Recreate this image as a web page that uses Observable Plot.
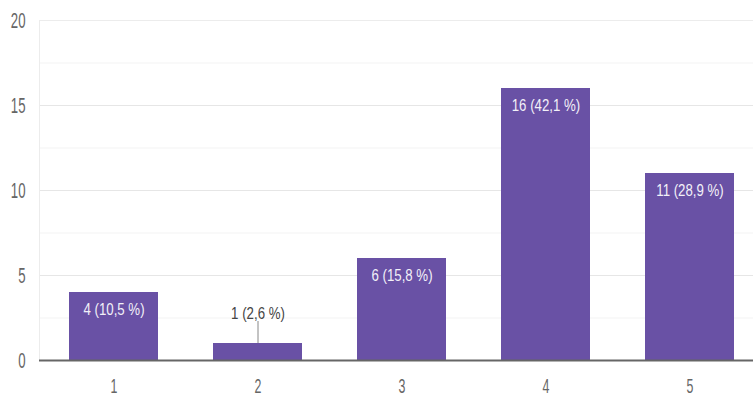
<!DOCTYPE html>
<html><head><meta charset="utf-8">
<script src="https://cdn.jsdelivr.net/npm/d3@7"></script>
<script src="https://cdn.jsdelivr.net/npm/@observablehq/plot@0.6"></script>
<style>
html,body{margin:0;padding:0;background:#fff;}
</style></head><body><div id="chart"></div>
<script>
const categories = ["1", "2", "3", "4", "5"];
const counts = [4, 1, 6, 16, 11];
const percents = [10.5, 2.6, 15.8, 42.1, 28.9];
const yTicks = [0, 5, 10, 15, 20];
const yMinorTicks = [2.5, 7.5, 12.5, 17.5];

const data = categories.map((c, i) => ({cat: c, count: counts[i], pct: percents[i]}));
const fmt = d => `${d.count} (${d.pct.toFixed(1).replace(".", ",")} %)`;
const FONT = '"Liberation Sans", Arial, sans-serif';
const inside = d => d.count >= 2;

const chart = Plot.plot({
  width: 753, height: 398,
  marginTop: 20, marginBottom: 38, marginLeft: 39, marginRight: -2,
  style: {fontFamily: FONT, background: "#fff", color: "#666", fontSize: "16px"},
  x: {domain: categories, range: [39.6, 763.4], paddingInner: 0.385, paddingOuter: 0.1925, align: 0.5,
      tickSize: 0, tickPadding: 18, label: null},
  y: {domain: [0, 20], ticks: yTicks, tickSize: 0, tickPadding: 14, label: null},
  marks: [
    Plot.ruleY(yMinorTicks, {stroke: "#f3f3f3"}),
    Plot.ruleY(yTicks, {stroke: "#e6e6e6"}),
    Plot.frame({stroke: "#ececec"}),
    Plot.barY(data, {x: "cat", y: "count", fill: "#6951a5"}),
    Plot.ruleX(data.filter(d => !inside(d)), {x: "cat", y1: "count", y2: "count", insetTop: -22, stroke: "#888"}),
    Plot.text(data.filter(inside), {x: "cat", y: "count", text: fmt, dy: 17, fill: "#f2f0f8", fontSize: 16}),
    Plot.text(data.filter(d => !inside(d)), {x: "cat", y: "count", text: fmt, dy: -30, fill: "#444", fontSize: 16}),
    Plot.ruleY([0], {stroke: "#666", strokeWidth: 2})
  ]
});
document.getElementById("chart").appendChild(chart);

function stretch(selector, size, sx, fill) {
  chart.querySelectorAll(selector).forEach(t => {
    const ax = parseFloat(t.getAttribute("x") || 0);
    const tr = t.getAttribute("transform") || "";
    t.setAttribute("transform", `${tr} translate(${ax},0) scale(${sx},1) translate(${-ax},0)`);
    t.style.fontSize = size + "px";
    if (fill) t.setAttribute("fill", fill);
  });
}
stretch('[aria-label^="y-axis"] text', 22, 0.6, "#666");
stretch('[aria-label^="x-axis"] text', 20, 0.62, "#666");
stretch('g[aria-label="text"] text', 17, 0.78, null);
</script>
</body></html>
